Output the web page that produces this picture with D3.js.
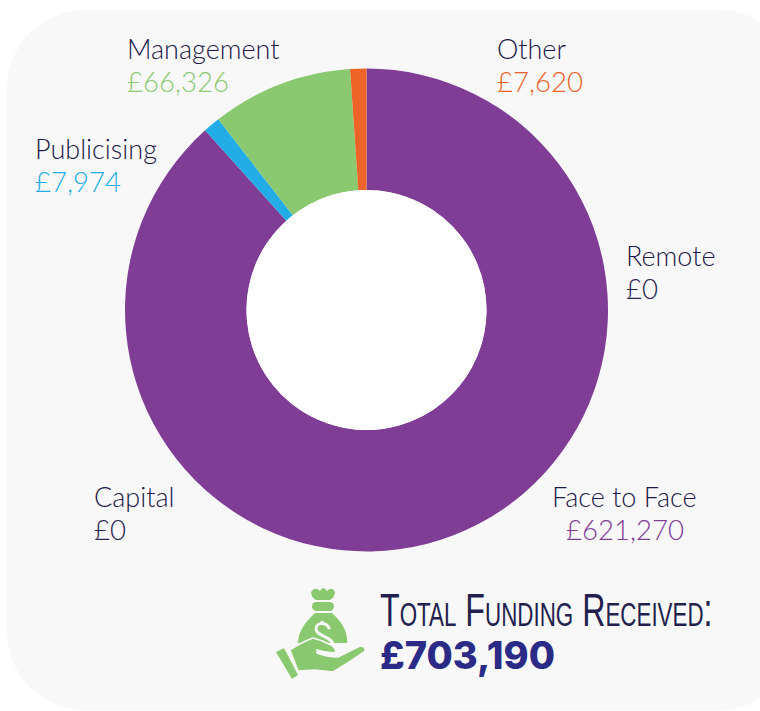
<!DOCTYPE html>
<html><head><meta charset="utf-8">
<script src="https://cdn.jsdelivr.net/npm/d3@7"></script>
<style>html,body{margin:0;padding:0;background:#fff}svg{display:block}text{font-family:Lato,sans-serif;font-weight:300}</style>
</head><body><svg id="c" width="760" height="711"></svg>
<script>
const categories=["Remote","Face to Face","Capital","Publicising","Management","Other"];
const values=[0,621270,0,7974,66326,7620];
const colors=["#2a2550","#7f3d96","#2a2550","#22ade6","#8bc970","#ee6428"];
const valueLabels=["£0","£621,270","£0","£7,974","£66,326","£7,620"];
const labelPos=[[626,266,626],[552,507,566],[94,507,94],[35,159,35],[127,59,127],[497,59,497]];
const totalTitle="Total Funding Received:";
const totalValue="£703,190";

const panel="#f8f8f8";
const svg=d3.select("#c");
svg.append("rect").attr("x",7).attr("y",10).attr("width",790).attr("height",700).attr("rx",78).attr("fill",panel);
const pie=d3.pie().sort(null).value(d=>d)(values);
const arc=d3.arc().innerRadius(120).outerRadius(241.5);
const g=svg.append("g").attr("transform","translate(366.5,310)");
g.selectAll("path").data(pie).join("path").attr("d",arc).attr("fill",(d,i)=>colors[i]);
g.append("circle").attr("r",120).attr("fill","#fff");

categories.forEach((c,i)=>{
  const [x,y,vx]=labelPos[i];
  svg.append("text").attr("x",x).attr("y",y).attr("font-size",27).attr("fill","#1c1848").text(c);
  svg.append("text").attr("x",vx).attr("y",y+33).attr("font-size",27.6).attr("fill",colors[i]).text(valueLabels[i]);
});

const title=svg.append("text")
 .style("font-family","'Liberation Sans Narrow',sans-serif").style("font-weight",400).style("font-variant","small-caps")
 .attr("font-size",47).attr("fill","#231f4e").text(totalTitle);
const tw=title.node().getComputedTextLength();
title.attr("transform",`translate(380,626) scale(${335/tw},1)`);
svg.append("text").attr("x",380).attr("y",669)
 .style("font-family","Inter,sans-serif").style("font-weight",800).attr("font-size",38).attr("fill","#2b2a86").text(totalValue);

// money bag in hand icon
const ic=svg.append("g").attr("fill","#8bc970");
ic.append("path").attr("d","M311 592 Q315 586 320 591 Q323 585 327 591 Q332 586 335 592 Q335 597 330 600 L316 600 Q311 597 311 592 Z");
ic.append("rect").attr("x",312).attr("y",602).attr("width",22).attr("height",9).attr("rx",4.5);
ic.append("path").attr("d","M315 613 L332 613 C342 622 348 632 347 643 L298 643 C298 632 305 622 315 613 Z");
ic.append("path").attr("d","M329 628 C326 622 316 622 316 629 C316 636 333 637 333 645").attr("fill","none").attr("stroke",panel).attr("stroke-width",3).attr("stroke-linecap","round");
ic.append("path").attr("d","M322 621 L322 625").attr("stroke",panel).attr("stroke-width",3);
ic.append("path").attr("d","M290 650 Q302 642 313 638 Q322 640 331 645 Q337 649 335 653 Q326 653 317 650 L317 653 Q327 657 338 657 L360 646 Q366 646 365 651 Q350 662 333 672 L315 670 L298 671 Z").attr("stroke",panel).attr("stroke-width",1.5);
ic.append("path").attr("d","M276 652 L284 648 L298 675 L292 679 Z");
</script></body></html>
